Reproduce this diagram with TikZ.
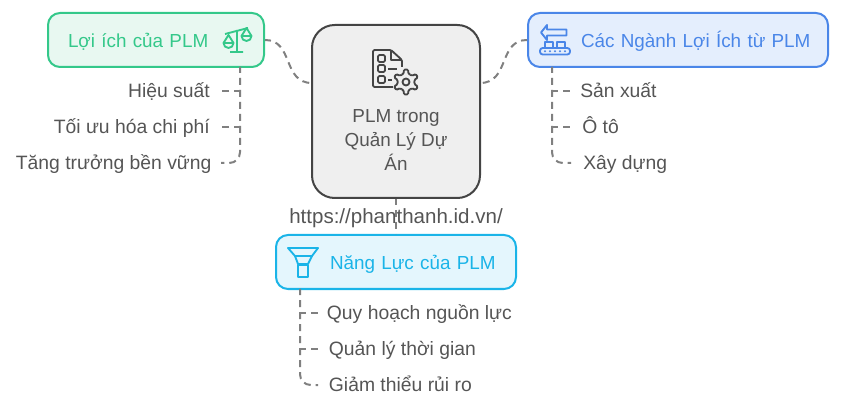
\documentclass[tikz,border=0pt]{standalone}
\usepackage{fontspec}
\setmainfont{Liberation Sans}
\definecolor{ink}{HTML}{555555}
\definecolor{hubline}{HTML}{444444}
\definecolor{hubfill}{HTML}{EFEFEF}
\definecolor{linkgray}{HTML}{808080}
\definecolor{greenline}{HTML}{34C88A}
\definecolor{greenfill}{HTML}{E8F8F1}
\definecolor{blueline}{HTML}{4A86E8}
\definecolor{bluefill}{HTML}{E4EEFD}
\definecolor{cyanline}{HTML}{1AB4E8}
\definecolor{cyanfill}{HTML}{E4F6FD}
\newcommand{\panelstrut}{\rule[-4pt]{0pt}{19pt}}
\tikzset{
	labeltext/.style={font=\fontsize{14.5}{18}\selectfont},
	boxtext/.style={font=\fontsize{14.15}{18}\selectfont},
	panel/.style={boxtext,draw,line width=1.5pt,rounded corners=9pt,minimum height=40.5pt,inner xsep=0pt,inner ysep=0pt,align=left},
	hub/.style={boxtext,draw=hubline,fill=hubfill,line width=1.5pt,rounded corners=17pt,minimum width=126pt,minimum height=129.75pt,inner sep=0pt,align=center,text=ink},
	leafleft/.style={labeltext,text=ink,anchor=east,inner ysep=0pt,inner xsep=9pt,text height=12pt,text depth=2pt},
	leafright/.style={labeltext,text=ink,anchor=west,inner ysep=0pt,inner xsep=7.5pt,text height=12pt,text depth=2pt},
	link/.style={draw=linkgray,line width=1.5pt,dash pattern=on 5.25pt off 3.75pt,dash phase=.75pt},
	iconline/.style={line width=1.4pt,line join=round}
}
\begin{document}
\begin{tikzpicture}[x=.75pt,y=-.75pt]
	\useasboundingbox (0,0) rectangle (841,409);
	%Cajas%
	\node[hub] (plm) at (396,111.5) {\rule{0pt}{53pt}PLM trong\\Quản Lý Dự\\Án};
	\node[panel,draw=greenline,fill=greenfill,text=greenline,text width=162pt] (benefit) at (156,40) {\panelstrut\hspace*{15pt}Lợi ích của PLM};
	\node[panel,draw=blueline,fill=bluefill,text=blueline,text width=225pt] (sector) at (678,40) {\panelstrut\hspace*{39.75pt}Các Ngành Lợi Ích từ PLM};
	\node[panel,draw=cyanline,fill=cyanfill,text=cyanline,text width=180pt] (ability) at (396,262) {\panelstrut\hspace*{40.5pt}Năng Lực của PLM};
	\node[labeltext,font=\fontsize{15.4}{18}\selectfont,text=ink,inner sep=0pt,text height=12pt,text depth=2pt] (site) at (396,217) {https://phanthanh.id.vn/};
	%Hojas%
	\node[leafleft] (hieu) at (222,91) {Hiệu suất};
	\node[leafleft] (toiuu) at (222,127) {Tối ưu hóa chi phí};
	\node[leafleft,inner xsep=7pt] (tangtruong) at (221,163) {Tăng trưởng bền vững};
	\node[leafright] (sanxuat) at (570,91) {Sản xuất};
	\node[leafright,inner xsep=9pt] (oto) at (570,127) {Ô tô};
	\node[leafright,inner xsep=9pt] (xaydung) at (571,163) {Xây dựng};
	\node[leafright,inner xsep=6.5pt] (quyhoach) at (318,313) {Quy hoạch nguồn lực};
	\node[leafright,inner xsep=8pt] (quanly) at (318,349) {Quản lý thời gian};
	\node[leafright,inner xsep=8pt] (giamthieu) at (318,385) {Giảm thiểu rủi ro};
	%Puntos de salida%
	\coordinate (plmleft) at (312,83);
	\coordinate (plmright) at (480,83);
	\coordinate (benefitout) at (240,67);
	\coordinate (sectorout) at (552,67);
	\coordinate (abilityout) at (300,289);
	%Conectores%
	\draw[link] (benefit.east) .. controls (294,40) and (282,83) .. (plmleft);
	\draw[link] (sector.west) .. controls (498,40) and (510,83) .. (plmright);
	\draw[link] (plm.south) -- (ability.north);
	\draw[link] (benefitout) |- (hieu.east);
	\draw[link] (benefitout) |- (toiuu.east);
	\draw[link,rounded corners=8pt] (benefitout) |- (tangtruong.east);
	\draw[link] (sectorout) |- (sanxuat.west);
	\draw[link] (sectorout) |- (oto.west);
	\draw[link,rounded corners=8pt] (sectorout) |- (xaydung.west);
	\draw[link] (abilityout) |- (quyhoach.west);
	\draw[link] (abilityout) |- (quanly.west);
	\draw[link,rounded corners=8pt] (abilityout) |- (giamthieu.west);
	%Balanza%
	\draw[iconline,greenline] (237,30)--(237,52) (230,52)--(243,52) (225,34)--(248,28);
	\draw[iconline,greenline] (223.5,43)--(228.5,35)--(233.5,43)--cycle (223.5,43) arc[start angle=180,end angle=0,x radius=5,y radius=5];
	\draw[iconline,greenline] (241.5,36)--(246.5,28)--(251.5,36)--cycle (241.5,36) arc[start angle=180,end angle=0,x radius=5,y radius=5];
	%Documento y engranaje%
	\draw[iconline,hubline,rounded corners=1pt] (402,67)--(402,60)--(391,50)--(373,50)--(373,87)--(393,87);
	\draw[iconline,hubline] (391,50)--(391,60)--(402,60);
	\draw[iconline,hubline,rounded corners=1pt] (378,55) rectangle (385,62) (378,65) rectangle (385,72) (378,76) rectangle (385,83);
	\draw[iconline,hubline] (388,69)--(397,69) (388,80)--(392,80);
	\begin{scope}[shift={(406,82)}]
		\foreach \a in {30,90,...,330}
			\draw[iconline,hubline,rounded corners=1pt] (\a-30:8.5)--(\a-15:8.5)--(\a-10:12.7)--(\a+10:12.7)--(\a+15:8.5)--(\a+30:8.5);
		\draw[iconline,hubline] (0,0) circle [radius=3.5];
	\end{scope}
	%Cinta%
	\draw[iconline,blueline] (566.5,29.5)--(547,29.5)--(547,25)--(541,32.5)--(547,40)--(547,35.5)--(566.5,35.5)--cycle;
	\draw[iconline,blueline] (545,48)--(545,42)--(553,42)--(553,48) (557,48)--(557,42)--(565,42)--(565,48);
	\draw[iconline,blueline,rounded corners=2pt] (540,48) rectangle (570,54.5);
	\foreach \x in {545,550,555,560,565}
		\fill[blueline] (\x,51.2) circle [radius=1.1];
	%Embudo%
	\draw[iconline,cyanline] (288,248)--(318,248)--(312,256)--(295,256)--cycle;
	\draw[iconline,cyanline] (295,256)--(298,264)--(308,264)--(312,256);
	\draw[iconline,cyanline] (298,265) rectangle (308,277);
\end{tikzpicture}
\end{document}
